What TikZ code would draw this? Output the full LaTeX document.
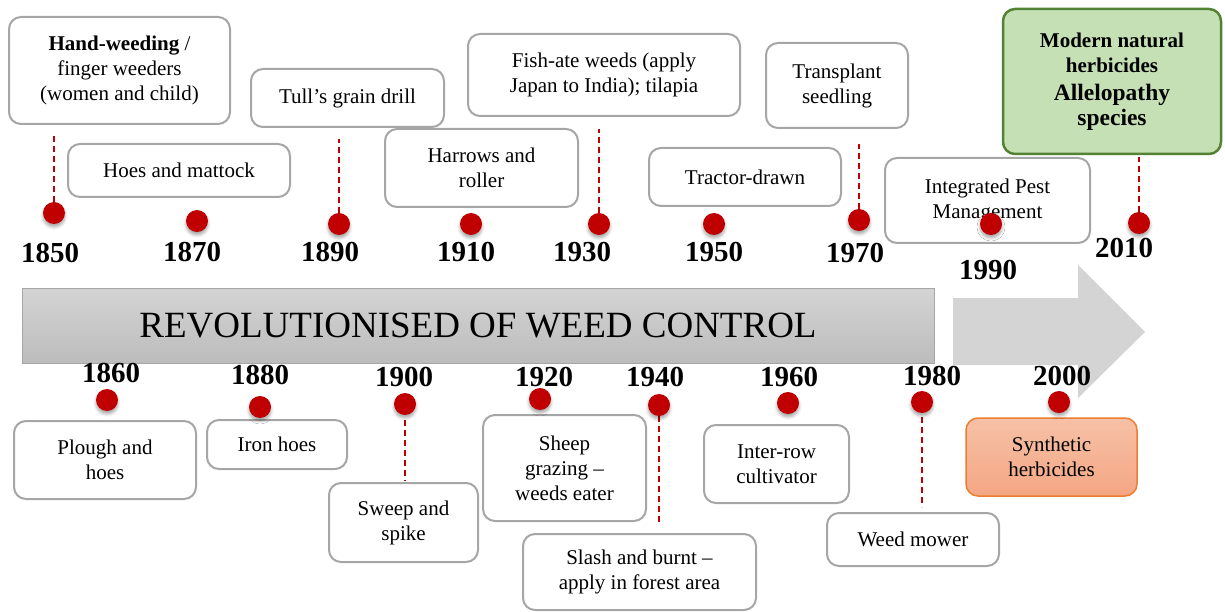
\documentclass[tikz,border=0pt]{standalone}
\usepackage{fontspec}
\setmainfont{Liberation Serif}
\usepackage{xcolor}
\usepackage{tikz}
\usetikzlibrary{shadows.blur}
\definecolor{boxgray}{HTML}{A6A6A6}
\definecolor{dotred}{HTML}{C00000}
\definecolor{bartop}{HTML}{D4D4D4}
\definecolor{barbot}{HTML}{BCBCBC}
\definecolor{arrgray}{HTML}{D4D4D4}
\definecolor{leaf}{HTML}{C5E0B4}
\definecolor{leafdark}{HTML}{548235}
\definecolor{peachtop}{HTML}{F6C1A7}
\definecolor{peachbot}{HTML}{F4A683}
\definecolor{peachline}{HTML}{ED7D31}
\newcommand{\bigline}{\fontsize{23.5}{27}\selectfont}
\tikzset{
  every node/.style={text=black},
  % one event box; sizes are given at each node
  evt/.style={draw=boxgray, fill=white, rounded corners=12pt, line width=2pt, align=center,
              inner sep=2pt, font=\fontsize{21}{25}\selectfont},
  yr/.style={font=\bfseries\fontsize{29}{30}\selectfont, inner sep=0pt},
  dot/.style={circle, fill=dotred, minimum size=22pt, inner sep=0pt,
              blur shadow={shadow xshift=0pt, shadow yshift=-3pt, shadow blur radius=3pt, shadow opacity=35}},
  link/.style={draw=dotred, line width=1.6pt, dash pattern=on 6pt off 4pt},
  bar/.style={draw=boxgray, line width=0.8pt, top color=bartop, bottom color=barbot,
              inner sep=0pt, font=\fontsize{37}{40}\selectfont},
}
\begin{document}
\begin{tikzpicture}[x=1pt,y=-1pt]
  \useasboundingbox (0,0) rectangle (1225,612);

  % ---- the time axis ----
  \fill[arrgray] (953,298) -- (1078,298) -- (1078,265) -- (1145,332) -- (1078,398) -- (1078,365) -- (953,365) -- cycle;
  \node[bar, minimum width=912pt, minimum height=75pt] (bar) at (478,325.5) {REVOLUTIONISED OF WEED CONTROL};

  % ---- events above the axis ----
  \node[evt, minimum width=221pt, minimum height=107pt] (hand)    at (119.5,70.5) {\textbf{Hand-weeding} /\\finger weeders\\(women and child)};
  \node[evt, minimum width=222pt, minimum height=53pt]  (hoes)    at (179,170.5)  {Hoes and mattock};
  \node[evt, minimum width=193pt, minimum height=58pt]  (tull)    at (347.5,98)   {Tull’s grain drill};
  \node[evt, minimum width=193pt, minimum height=78pt]  (harrow)  at (481.5,168)  {Harrows and\\roller};
  \node[evt, minimum width=272pt, minimum height=82pt]  (fish)    at (604,75)     {Fish-ate weeds (apply\\Japan to India); tilapia};
  \node[evt, minimum width=192pt, minimum height=58pt]  (tractor) at (745,177)    {Tractor-drawn};
  \node[evt, minimum width=142pt, minimum height=85pt]  (transp)  at (837,85.5)   {Transplant\\seedling};
  \node[evt, minimum width=205pt, minimum height=85pt]  (ipm)     at (987.5,200.5) {Integrated Pest\\Management};
  \node[evt, draw=leafdark, fill=leaf, line width=2.5pt, minimum width=218pt, minimum height=145pt,
        font=\bfseries\fontsize{21}{25}\selectfont] (natural) at (1112,81.5)
        {Modern natural\\herbicides\\[3pt]\bigline Allelopathy\\\bigline species};

  % ---- events below the axis ----
  \node[evt, minimum width=182pt, minimum height=78pt]  (plough)  at (105,460)    {Plough and\\hoes};
  \node[evt, minimum width=140pt, minimum height=49pt]  (iron)    at (277,444.5)  {Iron hoes};
  \node[evt, minimum width=149pt, minimum height=79pt]  (sweep)   at (403.5,522.5) {Sweep and\\spike};
  \node[evt, minimum width=163pt, minimum height=106pt] (sheep)   at (564.5,468)  {Sheep\\grazing –\\weeds eater};
  \node[evt, minimum width=233pt, minimum height=76pt]  (slash)   at (639.5,572)  {Slash and burnt –\\apply in forest area};
  \node[evt, minimum width=145pt, minimum height=78pt]  (inter)   at (776.5,464)  {Inter-row\\cultivator};
  \node[evt, minimum width=172pt, minimum height=53pt]  (mower)   at (913,539.5)  {Weed mower};
  \node[evt, draw=peachline, line width=1.5pt, top color=peachtop, bottom color=peachbot,
        minimum width=171pt, minimum height=78pt] (synth) at (1051.5,457) {Synthetic\\herbicides};

  % ---- year marks ----
  \foreach \y/\dx/\dy/\lx/\ly in {1850/54/213/50/253, 1870/197/221/192/252, 1890/339/224/330/252,
      1910/471/224/466/252, 1930/599/224/582/252, 1950/714/224/714/252, 1970/859/220/855/253,
      1990/991/224/988/270, 2010/1139/223/1124/248,
      1860/107/400/111/373, 1880/260/407/260/375, 1900/405/404/404/377, 1920/540/399/544/377,
      1940/659/405/655/377, 1960/788/403/789/377, 1980/922/402/932/376, 2000/1059/402/1062/376}{
    \node[yr] (t\y) at (\lx,\ly) {\y};
    \coordinate (c\y) at (\dx,\dy);
  }

  % dashed drops from the dots to their boxes
  \draw[link, shorten >=9pt]  (c1850) ++(0,-11) coordinate (a1850) (a1850) -- (a1850 |- hand.south);
  \draw[link, shorten >=11pt] (c1890) ++(0,-11) coordinate (a1890) (a1890) -- (a1890 |- tull.south);
  \draw[link, shorten >=12pt] (c1930) ++(0,-11) coordinate (a1930) (a1930) -- (a1930 |- fish.south);
  \draw[link, shorten >=15pt] (c1970) ++(0,-11) coordinate (a1970) (a1970) -- (a1970 |- transp.south);
  \draw[link, shorten >=2pt]  (c2010) ++(0,-11) coordinate (a2010) (a2010) -- (a2010 |- natural.south);
  \draw[link, shorten <=5pt, shorten >=1pt] (c1900) ++(0,11) coordinate (a1900) (a1900) -- (a1900 |- sweep.north);
  \draw[link, shorten >=9pt] (c1940) ++(0,11) coordinate (a1940) (a1940) -- (a1940 |- slash.north);
  \draw[link, shorten <=4pt, shorten >=5pt] (c1980) ++(0,11) coordinate (a1980) (a1980) -- (a1980 |- mower.north);

  \foreach \y in {1850,1870,1890,1910,1930,1950,1970,1990,2010,1860,1880,1900,1920,1940,1960,1980,2000}
    \node[dot] (d\y) at (c\y) {};
\end{tikzpicture}
\end{document}
